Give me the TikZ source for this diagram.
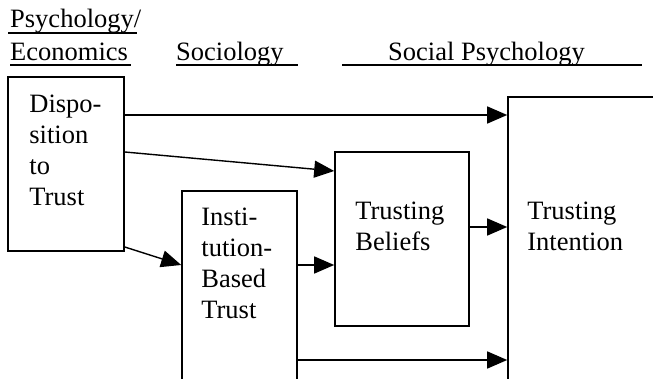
\documentclass[tikz,border=0pt]{standalone}
\usepackage{fontspec}
\setmainfont{Liberation Serif}
\usetikzlibrary{arrows.meta}
\tikzset{
  box/.style={draw, line width=1.6pt, inner sep=0pt},
  txt/.style={font=\fontsize{26.5}{31}\selectfont, align=left, inner sep=0pt, anchor=base west},
  arr/.style={line width=1.4pt, -{Triangle[length=20pt,width=17pt]}},
  uline/.style={line width=1.7pt}
}
\begin{document}
\begin{tikzpicture}[x=1pt,y=-1pt]
\useasboundingbox (0,0) rectangle (653,379);
\clip (0,0) rectangle (653,379);

% headings
\node[txt] (psy) at (10,28) {Psychology/};
\node[txt] (econ) at (10,61) {Economics};
\node[txt] (soc) at (176,61) {Sociology};
\node[txt] (socpsy) at (388,61) {Social Psychology};
\draw[uline] (8,33) -- (137,33);
\draw[uline] (10,65) -- (131,65);
\draw[uline] (176,65) -- (298,65);
\draw[uline] (342,65) -- (642,65);

% boxes
\node[box, minimum width=116pt, minimum height=174pt] (dispo) at (66,164) {};
\node[box, minimum width=115pt, minimum height=249pt] (inst) at (239.5,315.5) {};
\node[box, minimum width=134pt, minimum height=174pt] (beliefs) at (402,239) {};
\node[box, minimum width=192pt, minimum height=343pt] (intent) at (604,268.5) {};

% box texts (base = last line)
\node[txt] (dispotxt) at ([xshift=22pt,yshift=-129pt]dispo.north west) {Dispo-\\sition\\to\\Trust};
\node[txt] (insttxt) at ([xshift=20pt,yshift=-128pt]inst.north west) {Insti-\\tution-\\Based\\Trust};
\node[txt] (beliefstxt) at ([xshift=21pt,yshift=-99pt]beliefs.north west) {Trusting\\Beliefs};
\node[txt] (intenttxt) at ([xshift=20pt,yshift=-154pt]intent.north west) {Trusting\\Intention};

% arrows
\draw[arr] (dispo.east |- 0,115) -- (intent.west |- 0,115);
\draw[arr] (dispo.east |- 0,152) -- (beliefs.west |- 0,171);
\draw[arr] (dispo.east |- 0,247) -- (inst.west |- 0,265);
\draw[arr] (inst.east |- 0,265) -- (beliefs.west |- 0,265);
\draw[arr] (beliefs.east |- 0,227) -- (intent.west |- 0,227);
\draw[arr] (inst.east |- 0,360) -- (intent.west |- 0,360);
\end{tikzpicture}
\end{document}
